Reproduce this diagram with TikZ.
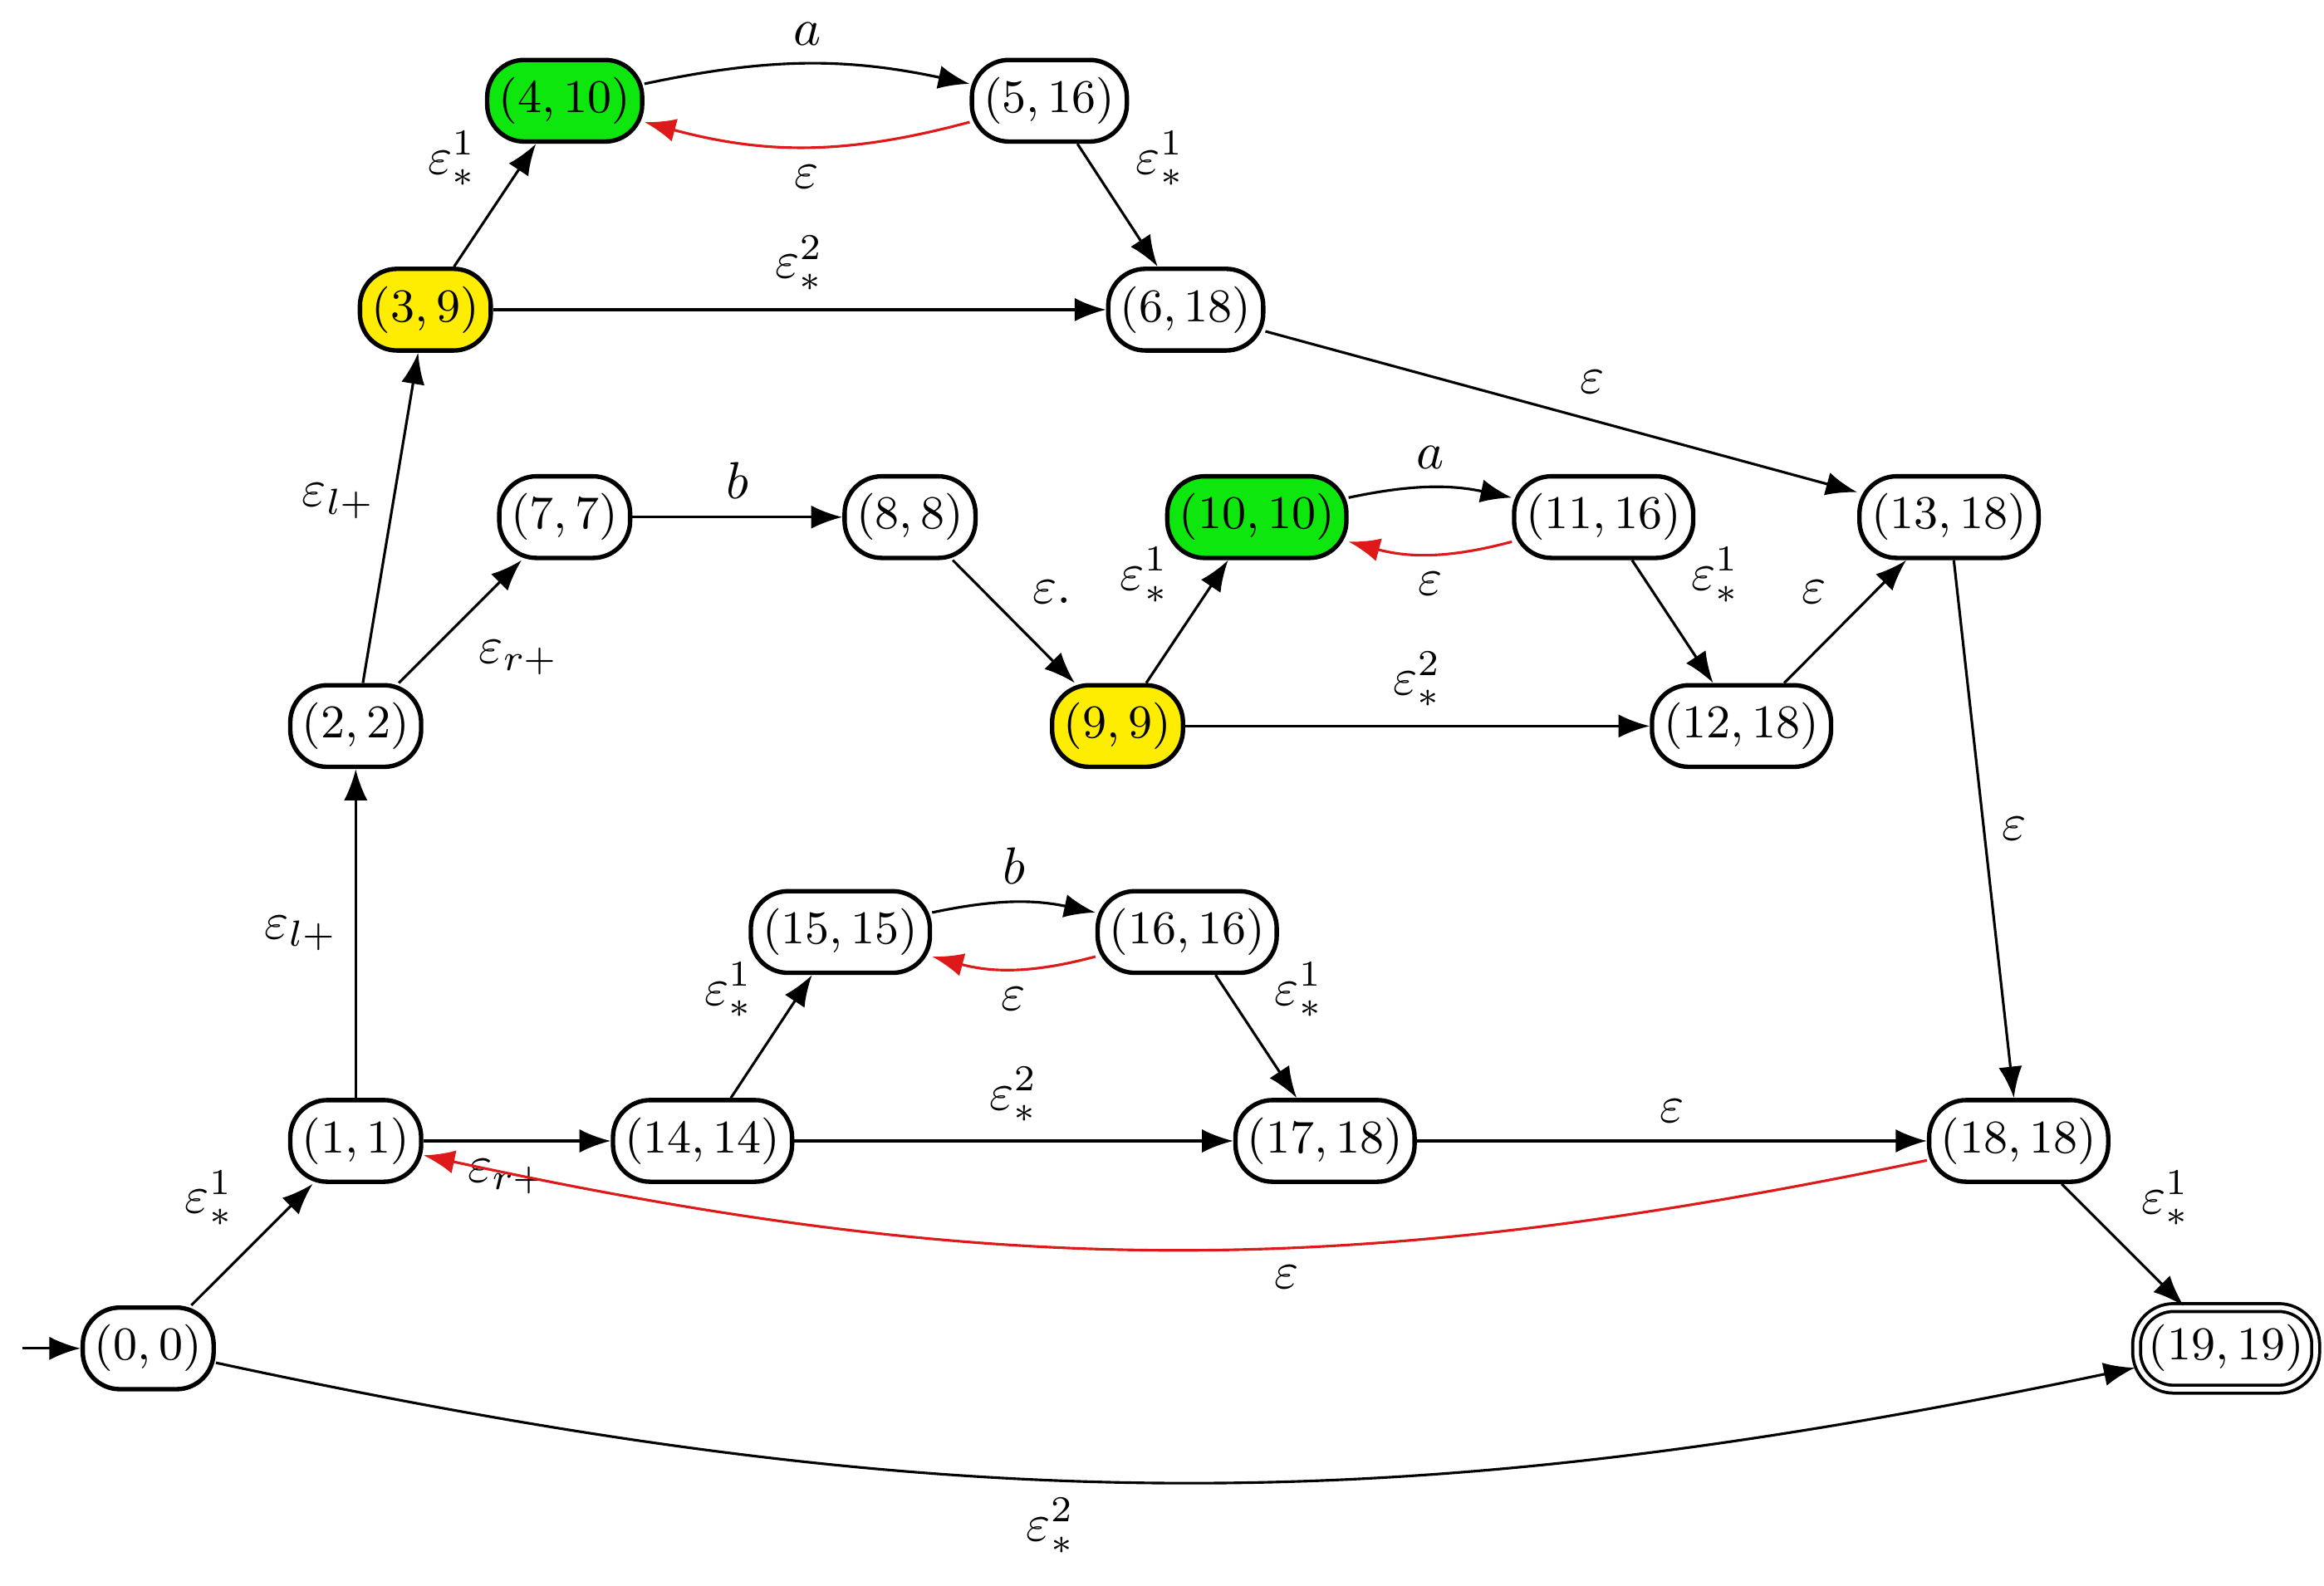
\documentclass[tikz,border=0pt]{standalone}
\usetikzlibrary{arrows.meta}
\begin{document}
\begin{tikzpicture}[x=0.01cm,y=-0.01cm,
  st/.style={draw,line width=0.85pt,rounded corners=0.25cm,minimum height=0.52cm,inner xsep=0.08cm,font=\fontsize{8.6}{10}\selectfont},
  gr/.style={st,fill=green!90!black!95},
  ye/.style={st,fill=yellow!95!orange},
  acc/.style={st,line width=0.6pt,double,double distance=0.9pt},
  e/.style={-{Latex[length=6pt,width=4.5pt]},line width=0.5pt},
  r/.style={e,draw=red!85!black!90},
  lb/.style={font=\fontsize{10}{12}\selectfont}]
\useasboundingbox (0,0) rectangle (1568,1070);
\node[st] (n0) at (100,910) {$(0,0)$};
\node[st] (n1) at (240,770) {$(1,1)$};
\node[st] (n2) at (240,490) {$(2,2)$};
\node[ye] (n3) at (287,209) {$(3,9)$};
\node[gr] (n4) at (381,68) {$(4,10)$};
\node[st] (n5) at (708,68) {$(5,16)$};
\node[st] (n6) at (800,209) {$(6,18)$};
\node[st] (n7) at (381,349) {$(7,7)$};
\node[st] (n8) at (614,349) {$(8,8)$};
\node[ye] (n9) at (754,490) {$(9,9)$};
\node[gr] (n10) at (848,349) {$(10,10)$};
\node[st] (n11) at (1082,349) {$(11,16)$};
\node[st] (n12) at (1175,490) {$(12,18)$};
\node[st] (n13) at (1315,349) {$(13,18)$};
\node[st] (n14) at (474,770) {$(14,14)$};
\node[st] (n15) at (567,629) {$(15,15)$};
\node[st] (n16) at (801,629) {$(16,16)$};
\node[st] (n17) at (894,770) {$(17,18)$};
\node[st] (n18) at (1362,770) {$(18,18)$};
\node[acc] (n19) at (1502,910) {$(19,19)$};
\coordinate (s) at (15,910);
\draw[e] (s) -- (n0);
\draw[e] (n0) -- node[lb,above left]{$\varepsilon_*^1$} (n1);
\draw[e] (n1) -- node[lb,left]{$\varepsilon_{l+}$} (n2);
\draw[e] (n2) -- node[lb,left,pos=0.55]{$\varepsilon_{l+}$} (n3);
\draw[e] (n2) -- node[lb,below right]{$\varepsilon_{r+}$} (n7);
\draw[e] (n3) -- node[lb,above left]{$\varepsilon_*^1$} (n4);
\draw[e] (n3) -- node[lb,above]{$\varepsilon_*^2$} (n6);
\draw[e] (n4) to[bend left=12] node[lb,above]{$a$} (n5);
\draw[r] (n5) to[bend left=15] node[lb,below,text=black]{$\varepsilon$} (n4);
\draw[e] (n5) -- node[lb,above right]{$\varepsilon_*^1$} (n6);
\draw[e] (n6) -- node[lb,above right]{$\varepsilon$} (n13);
\draw[e] (n7) -- node[lb,above]{$b$} (n8);
\draw[e] (n8) -- node[lb,above right]{$\varepsilon.$} (n9);
\draw[e] (n9) -- node[lb,above left]{$\varepsilon_*^1$} (n10);
\draw[e] (n9) -- node[lb,above]{$\varepsilon_*^2$} (n12);
\draw[e] (n10) to[bend left=12] node[lb,above]{$a$} (n11);
\draw[r] (n11) to[bend left=15] node[lb,below,text=black]{$\varepsilon$} (n10);
\draw[e] (n11) -- node[lb,above right]{$\varepsilon_*^1$} (n12);
\draw[e] (n12) -- node[lb,above left]{$\varepsilon$} (n13);
\draw[e] (n13) -- node[lb,right]{$\varepsilon$} (n18);
\draw[e] (n1) -- node[lb,below,pos=0.45]{$\varepsilon_{r+}$} (n14);
\draw[e] (n14) -- node[lb,above left]{$\varepsilon_*^1$} (n15);
\draw[e] (n14) -- node[lb,above]{$\varepsilon_*^2$} (n17);
\draw[e] (n15) to[bend left=12] node[lb,above]{$b$} (n16);
\draw[r] (n16) to[bend left=15] node[lb,below,text=black]{$\varepsilon$} (n15);
\draw[e] (n16) -- node[lb,above right]{$\varepsilon_*^1$} (n17);
\draw[e] (n17) -- node[lb,above]{$\varepsilon$} (n18);
\draw[r] (n18) to[bend left=12] node[lb,below,text=black,pos=0.42]{$\varepsilon$} (n1);
\draw[e] (n18) -- node[lb,above right]{$\varepsilon_*^1$} (n19);
\draw[e] (n0) to[bend right=12] node[lb,below,pos=0.43]{$\varepsilon_*^2$} (n19);
\end{tikzpicture}
\end{document}
